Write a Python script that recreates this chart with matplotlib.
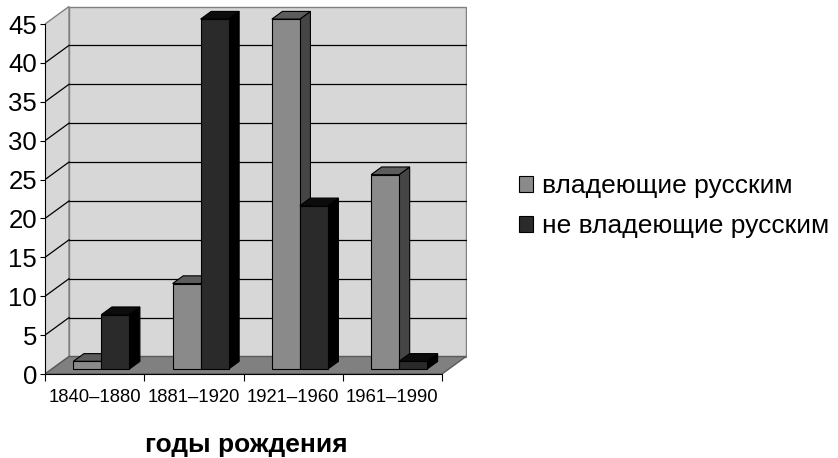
import matplotlib
matplotlib.use('Agg')
from matplotlib import pyplot as plt
from matplotlib.patches import Polygon, Patch
import numpy as np

plt.rcParams['font.family'] = ['Liberation Sans', 'DejaVu Sans']

# данные
categories = ['1840–1880', '1881–1920', '1921–1960', '1961–1990']
series_names = ['владеющие русским', 'не владеющие русским']
speak_ru = [1, 11, 45, 25]
no_ru = [7, 45, 21, 1]
y_ticks = list(range(0, 50, 5))

# стиль "объёмной" диаграммы
DX, DY = 0.242, 2.25          # глубина стенки (в единицах данных)
D0, D1 = 0.28, 0.72           # положение столбиков по глубине
BAR_W = 0.282
wall_c = '#d7d7d7'
floor_c = '#808080'
faces = [('#8a8a8a', '#5c5c5c', '#454545'),   # front, top, side
         ('#2a2a2a', '#0c0c0c', '#000000')]

W, H = 838, 458
fig = plt.figure(figsize=(W / 100, H / 100), dpi=100)
# оси: x 0..4 -> px 45..442, y 0..45 -> px 374..24
x_scale = (442 - 45) / 4
y_scale = (374 - 24) / 45
xmax, ymax = 4.25, 47.5
ax = fig.add_axes([45 / W, 1 - 374 / H, xmax * x_scale / W, ymax * y_scale / H])
ax.set_xlim(0, xmax)
ax.set_ylim(0, ymax)
ax.patch.set_visible(False)

top = y_ticks[-1]
n = len(categories)

# задняя стенка
ax.add_patch(Polygon([(DX, DY), (n + DX, DY), (n + DX, top + DY), (DX, top + DY)],
                     closed=True, fc=wall_c, ec='#808080', lw=1, zorder=1))
# боковая стенка
ax.add_patch(Polygon([(0, 0), (DX, DY), (DX, top + DY), (0, top)],
                     closed=True, fc=wall_c, ec='#808080', lw=1, zorder=1))
# линии сетки
for v in y_ticks[1:-1]:
    ax.plot([DX, n + DX], [v + DY, v + DY], color='black', lw=0.9, zorder=2)
    ax.plot([0, DX], [v, v + DY], color='black', lw=0.9, zorder=2)
# пол
ax.add_patch(Polygon([(0, 0), (n, 0), (n + DX, DY), (DX, DY)],
                     closed=True, fc=floor_c, ec='#5a5a5a', lw=1, zorder=3))

# столбики
bdx, bdy = (D1 - D0) * DX, (D1 - D0) * DY
y0 = D0 * DY
z = 4
for i in range(n):
    for j, vals in enumerate([speak_ru, no_ru]):
        h = vals[i]
        x0 = i + 0.5 - BAR_W + j * BAR_W + D0 * DX
        x1 = x0 + BAR_W
        fc, tc, sc = faces[j]
        ax.add_patch(Polygon([(x1, y0), (x1 + bdx, y0 + bdy), (x1 + bdx, y0 + h + bdy), (x1, y0 + h)],
                             closed=True, fc=sc, ec='black', lw=0.8, zorder=z))
        ax.add_patch(Polygon([(x0, y0 + h), (x1, y0 + h), (x1 + bdx, y0 + h + bdy), (x0 + bdx, y0 + h + bdy)],
                             closed=True, fc=tc, ec='black', lw=0.8, zorder=z))
        ax.add_patch(Polygon([(x0, y0), (x1, y0), (x1, y0 + h), (x0, y0 + h)],
                             closed=True, fc=fc, ec='black', lw=0.8, zorder=z))
        z += 1

# оси
for s in ['top', 'right']:
    ax.spines[s].set_visible(False)
ax.spines['left'].set_bounds(0, top)
ax.spines['bottom'].set_bounds(0, n)
ax.spines['left'].set_zorder(20)
ax.spines['bottom'].set_zorder(20)
ax.set_yticks(y_ticks)
ax.tick_params(axis='y', direction='out', length=3.6, width=0.8, pad=2, labelsize=18.5)
ax.set_xticks(np.arange(n + 1))
ax.set_xticklabels([])
ax.tick_params(axis='x', which='major', direction='out', length=5, width=0.8)
ax.set_xticks(np.arange(n) + 0.5, minor=True)
ax.set_xticklabels(categories, minor=True)
ax.tick_params(axis='x', which='minor', length=0, pad=11, labelsize=13.3)

# легенда
handles = [Patch(fc=faces[k][0], ec='black', lw=0.8) for k in range(2)]
fig.legend(handles, series_names, loc='upper left', bbox_to_anchor=(519 / W, 1 - 174 / H),
           frameon=False, fontsize=19, handlelength=0.54, handleheight=0.54,
           handletextpad=0.35, labelspacing=0.62, borderpad=0, borderaxespad=0)

fig.text(246 / W, 1 - 452 / H, 'годы рождения', ha='center', va='baseline',
         fontsize=19, fontweight='bold')

fig.savefig('out.png', dpi=100)
